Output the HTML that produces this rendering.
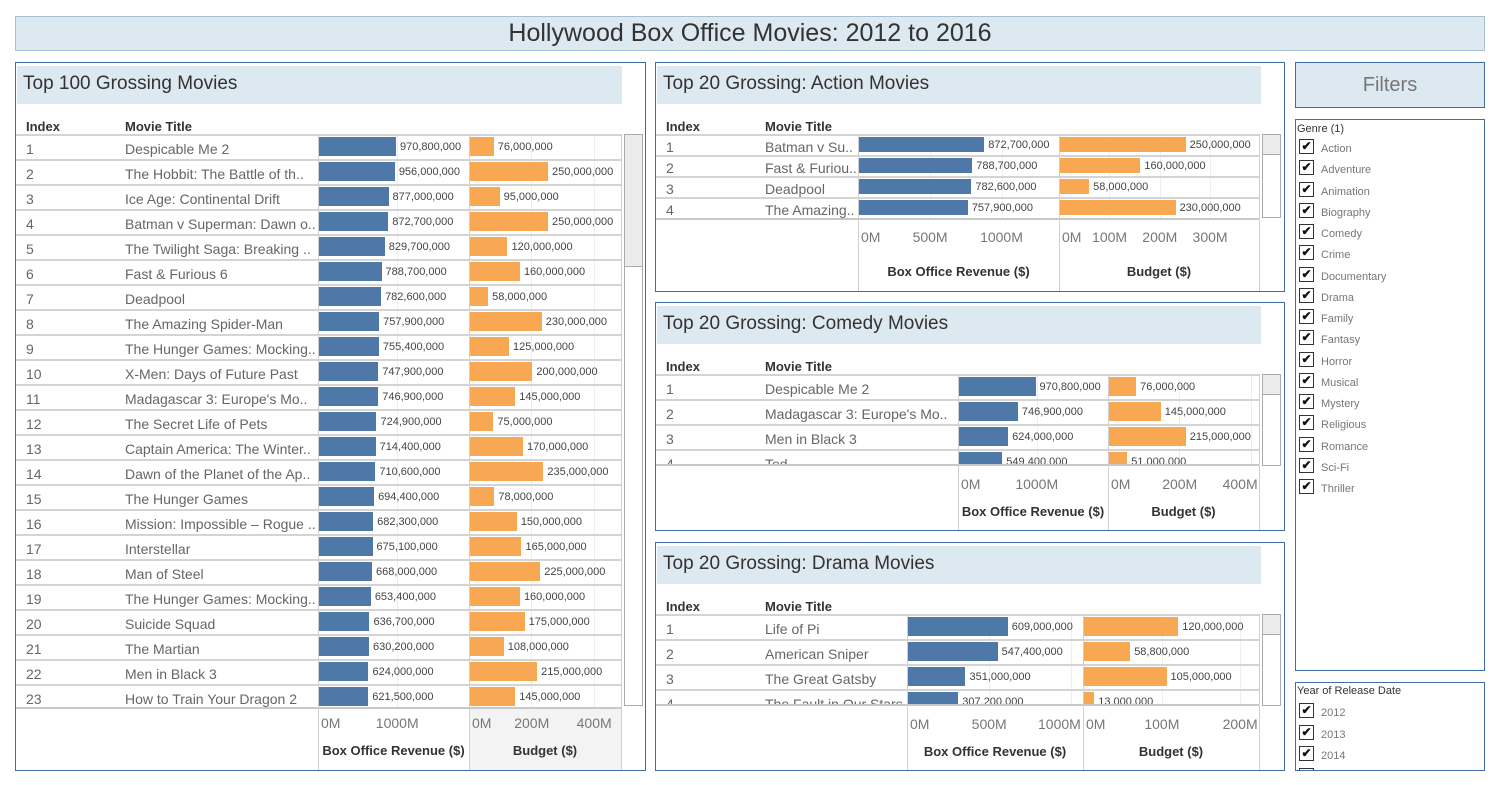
<!DOCTYPE html>
<html><head><meta charset="utf-8">
<style>
*{box-sizing:border-box;margin:0;padding:0}
html,body{width:1499px;height:785px;overflow:hidden}
body{background:#fff;position:relative;font-family:"Liberation Sans",sans-serif;color:#555}
.abs{position:absolute}
.panel{position:absolute;border:1px solid #3f6ea6;overflow:hidden;background:#fff}
.band{position:absolute;background:#dce9f0}
.ptitle{position:absolute;font-size:19px;color:#333;white-space:nowrap}
.hdr{position:absolute;font-size:13px;font-weight:bold;color:#333}
.cell{position:absolute;font-size:14px;color:#666;white-space:nowrap}
.val{position:absolute;font-size:11px;line-height:13px;color:#444;white-space:nowrap}
.tick{position:absolute;font-size:14px;color:#777;white-space:nowrap}
.axt{position:absolute;font-size:13px;font-weight:bold;color:#333;white-space:nowrap}
.cb{position:absolute;width:15px;height:15px;border:1.5px solid #333;font-size:12px;line-height:12px;text-align:center;color:#111;font-weight:bold}
.fl{position:absolute;font-size:11px;color:#777}
</style></head><body>
<div class="abs" style="left:15px;top:16px;width:1470px;height:35px;background:#dce9f0;border:1px solid #a9c0d0"></div>
<div class="abs" style="left:15px;top:19px;width:1470px;text-align:center;font-size:25px;color:#333">Hollywood Box Office Movies: 2012 to 2016</div>

<div class="panel" id="pMain" style="left:15px;top:62px;width:631px;height:709px"></div>
<div class="panel" id="pAction" style="left:655px;top:62px;width:630px;height:230px"></div>
<div class="panel" id="pComedy" style="left:655px;top:302px;width:630px;height:229px"></div>
<div class="panel" id="pDrama" style="left:655px;top:542px;width:630px;height:229px"></div>

<div class="abs" style="left:1295px;top:62px;width:190px;height:46px;background:#dce9f0;border:1px solid #3f6ea6"></div>
<div class="abs" style="left:1295px;top:74px;width:190px;text-align:center;font-size:20px;color:#777">Filters</div>
<div class="abs" id="genreBox" style="left:1295px;top:119px;width:190px;height:552px;border:1px solid #3f6ea6;overflow:hidden"></div>
<div class="abs" id="yearBox" style="left:1295px;top:682px;width:190px;height:89px;border:1px solid #3f6ea6;overflow:hidden"></div>

<script>
const mainTitles=["Despicable Me 2","The Hobbit: The Battle of th..","Ice Age: Continental Drift","Batman v Superman: Dawn o..","The Twilight Saga: Breaking ..","Fast & Furious 6","Deadpool","The Amazing Spider-Man","The Hunger Games: Mocking..","X-Men: Days of Future Past","Madagascar 3: Europe's Mo..","The Secret Life of Pets","Captain America: The Winter..","Dawn of the Planet of the Ap..","The Hunger Games","Mission: Impossible – Rogue ..","Interstellar","Man of Steel","The Hunger Games: Mocking..","Suicide Squad","The Martian","Men in Black 3","How to Train Your Dragon 2"];
const mainRevenue=[970.8,956,877,872.7,829.7,788.7,782.6,757.9,755.4,747.9,746.9,724.9,714.4,710.6,694.4,682.3,675.1,668,653.4,636.7,630.2,624,621.5];
const mainBudget=[76,250,95,250,120,160,58,230,125,200,145,75,170,235,78,150,165,225,160,175,108,215,145];
const actionTitles=["Batman v Su..","Fast & Furiou..","Deadpool","The Amazing.."];
const actionRevenue=[872.7,788.7,782.6,757.9];
const actionBudget=[250,160,58,230];
const comedyTitles=["Despicable Me 2","Madagascar 3: Europe's Mo..","Men in Black 3","Ted"];
const comedyRevenue=[970.8,746.9,624,549.4];
const comedyBudget=[76,145,215,51];
const dramaTitles=["Life of Pi","American Sniper","The Great Gatsby","The Fault in Our Stars"];
const dramaRevenue=[609,547.4,351,307.2];
const dramaBudget=[120,58.8,105,13];
const mainRevTicks=[0,1000],mainBudTicks=[0,200,400];
const actionRevTicks=[0,500,1000],actionBudTicks=[0,100,200,300];
const comedyRevTicks=[0,1000],comedyBudTicks=[0,200,400];
const dramaRevTicks=[0,500,1000],dramaBudTicks=[0,100,200];
const genres=["Action","Adventure","Animation","Biography","Comedy","Crime","Documentary","Drama","Family","Fantasy","Horror","Musical","Mystery","Religious","Romance","Sci-Fi","Thriller"];
const years=["2012","2013","2014","2015"];

function fmt(v){return Math.round(v*1e6).toLocaleString('en-US');}
function mk(parent,cls,style,text){const d=document.createElement('div');if(cls)d.className=cls;d.style.cssText=style;if(text!==undefined)d.textContent=text;parent.appendChild(d);return d;}

function buildPanel(o){
  const p=document.getElementById(o.id);
  const px=o.px,py=o.py;
  const b=mk(p,'band',`left:1px;top:3px;width:${o.bandW}px;height:38px`);
  
  const t=mk(p,'ptitle',`left:7px;top:10px`,o.title);
  
  const h1=mk(p,'hdr',`left:${o.idxX-px}px;top:${o.hdrY-py-8}px`,'Index');
  
  const h2=mk(p,'hdr',`left:${o.ttlX-px}px;top:${o.hdrY-py-8}px`,'Movie Title');
  
  const rx=o.revX0-px, bx=o.budX0-px, colEnd=bx+o.budW;
  const rs=v=>v/o.revMax*o.revW, bs=v=>v/o.budMax*o.budW;
  const top0=o.rowTop-py, rowsBottom=o.rowsBottom-py;
  const ph=p.clientHeight, axH=ph-rowsBottom;
  const body=mk(p,'',`position:absolute;left:0;top:${top0-2}px;width:${colEnd+1}px;height:${rowsBottom-top0+2}px;overflow:hidden`);
  
  mk(body,'',`position:absolute;left:${rx}px;top:0;width:1px;height:100%;background:#d0d0d0`);
  mk(body,'',`position:absolute;left:${bx}px;top:0;width:1px;height:100%;background:#d0d0d0`);
  mk(body,'',`position:absolute;left:${colEnd}px;top:0;width:1px;height:100%;background:#d0d0d0`);
  o.revTicks.forEach(v=>{if(v>0)mk(body,'',`position:absolute;left:${rx+rs(v)}px;top:0;width:1px;height:100%;background:#eee`);});
  o.budTicks.forEach(v=>{if(v>0)mk(body,'',`position:absolute;left:${bx+bs(v)}px;top:0;width:1px;height:100%;background:#eee`);});
  mk(body,'',`position:absolute;left:0;top:0;width:${colEnd}px;height:2px;background:#d4d4d4`);
  o.titles.forEach((tt,i)=>{
    const y=2+i*o.rowH;
    mk(body,'',`position:absolute;left:0;top:${y+o.rowH-2}px;width:${colEnd}px;height:2px;background:#d4d4d4`);
    const ix=mk(body,'cell',`left:${o.idxX-px}px;top:${y+o.rowH/2-8}px`,String(i+1));
    
    const tc=mk(body,'cell',`left:${o.ttlX-px}px;top:${y+o.rowH/2-8}px;width:${rx-(o.ttlX-px)}px;overflow:hidden`,tt);
    
    const bh=o.rowH-6, by=y+1;
    const rb=mk(body,'',`position:absolute;left:${rx+1}px;top:${by}px;width:${rs(o.rev[i])}px;height:${bh}px;background:#4e78a8`);
    
    const rv=mk(body,'val',`left:${rx+rs(o.rev[i])+5}px;top:${by+bh/2-6}px`,fmt(o.rev[i]));
    
    const bb=mk(body,'',`position:absolute;left:${bx+1}px;top:${by}px;width:${bs(o.bud[i])}px;height:${bh}px;background:#f8a752`);
    
    const bv=mk(body,'val',`left:${bx+bs(o.bud[i])+5}px;top:${by+bh/2-6}px`,fmt(o.bud[i]));
    
  });
  mk(p,'',`position:absolute;left:0;top:${rowsBottom}px;width:${colEnd}px;height:2px;background:#c8c8c8`);
  if(o.greyBud) mk(p,'',`position:absolute;left:${bx}px;top:${rowsBottom+2}px;width:${o.budW}px;height:${axH-2}px;background:#f3f3f3`);
  mk(p,'',`position:absolute;left:${rx}px;top:${rowsBottom}px;width:1px;height:${axH}px;background:#d0d0d0`);
  mk(p,'',`position:absolute;left:${bx}px;top:${rowsBottom}px;width:1px;height:${axH}px;background:#d0d0d0`);
  mk(p,'',`position:absolute;left:${colEnd}px;top:${rowsBottom}px;width:1px;height:${axH}px;background:#d0d0d0`);
  const tickLab=(x0,w,sc,v)=>{
    const lab=v+'M';const lw=lab.length*8.6;
    let l=v===0?x0+3:x0+sc(v)-lw/2;
    if(l+lw>x0+w-2)l=x0+w-2-lw;
    const d=mk(p,'tick',`left:${l}px;top:${o.tickY-py-9}px`,lab);
    
  };
  o.revTicks.forEach(v=>tickLab(rx,o.revW,rs,v));
  o.budTicks.forEach(v=>tickLab(bx,o.budW,bs,v));
  const a1=mk(p,'axt',`left:${rx}px;width:${o.revW}px;text-align:center;top:${o.axTY-py-8}px`,'Box Office Revenue ($)');
  
  const a2=mk(p,'axt',`left:${bx}px;width:${o.budW}px;text-align:center;top:${o.axTY-py-8}px`,'Budget ($)');
  
  const sb=mk(p,'',`position:absolute;left:${colEnd+3}px;top:${top0-2}px;width:19px;height:${o.sbH}px;border:1px solid #aaa;background:#fff`);
  
  const th=mk(sb,'',`position:absolute;left:0;top:0;width:100%;height:${o.thumbH}px;background:#ececec;border-bottom:1px solid #aaa`);
  
}

buildPanel({id:'pMain',px:15,py:62,bandW:605,title:'Top 100 Grossing Movies',idxX:25,ttlX:124,hdrY:126,rowTop:135,rowH:25,rowsBottom:706,
  revX0:317,revW:151,revMax:1904,budX0:468,budW:152,budMax:487,titles:mainTitles,rev:mainRevenue,bud:mainBudget,
  revTicks:mainRevTicks,budTicks:mainBudTicks,tickY:723,axTY:750,sbH:572,thumbH:132,greyBud:true});
buildPanel({id:'pAction',px:655,py:62,bandW:604,title:'Top 20 Grossing: Action Movies',idxX:665,ttlX:764,hdrY:126,rowTop:135,rowH:21,rowsBottom:217,
  revX0:857,revW:201,revMax:1400,budX0:1058,budW:200,budMax:398,titles:actionTitles,rev:actionRevenue,bud:actionBudget,
  revTicks:actionRevTicks,budTicks:actionBudTicks,tickY:237,axTY:271,sbH:84,thumbH:20});
buildPanel({id:'pComedy',px:655,py:302,bandW:604,title:'Top 20 Grossing: Comedy Movies',idxX:665,ttlX:764,hdrY:366,rowTop:375,rowH:25,rowsBottom:463,
  revX0:957,revW:150,revMax:1903,budX0:1107,budW:151,budMax:423,titles:comedyTitles,rev:comedyRevenue,bud:comedyBudget,
  revTicks:comedyRevTicks,budTicks:comedyBudTicks,tickY:484,axTY:511,sbH:92,thumbH:20});
buildPanel({id:'pDrama',px:655,py:542,bandW:604,title:'Top 20 Grossing: Drama Movies',idxX:665,ttlX:764,hdrY:606,rowTop:615,rowH:25,rowsBottom:703,
  revX0:906,revW:176,revMax:1075,budX0:1082,budW:176,budMax:224,titles:dramaTitles,rev:dramaRevenue,bud:dramaBudget,
  revTicks:dramaRevTicks,budTicks:dramaBudTicks,tickY:724,axTY:751,sbH:92,thumbH:20});

const gb=document.getElementById('genreBox');
const gl=mk(gb,'',`position:absolute;left:1px;top:3px;font-size:11px;color:#333`,'Genre (1)');

genres.forEach((g,i)=>{
  const y=147+i*21.25-119;
  const c=mk(gb,'cb',`left:3px;top:${y-9}px`,'✔');
  
  const l=mk(gb,'fl',`left:25px;top:${y-5}px`,g);
  
});
const yb=document.getElementById('yearBox');
const yl=mk(yb,'',`position:absolute;left:1px;top:2px;font-size:11px;color:#333`,'Year of Release Date');

years.forEach((g,i)=>{
  const y=711+i*21.5-682;
  const c=mk(yb,'cb',`left:3px;top:${y-9}px`,'✔');
  
  const l=mk(yb,'fl',`left:25px;top:${y-5}px`,g);
  
});
</script>
</body></html>
